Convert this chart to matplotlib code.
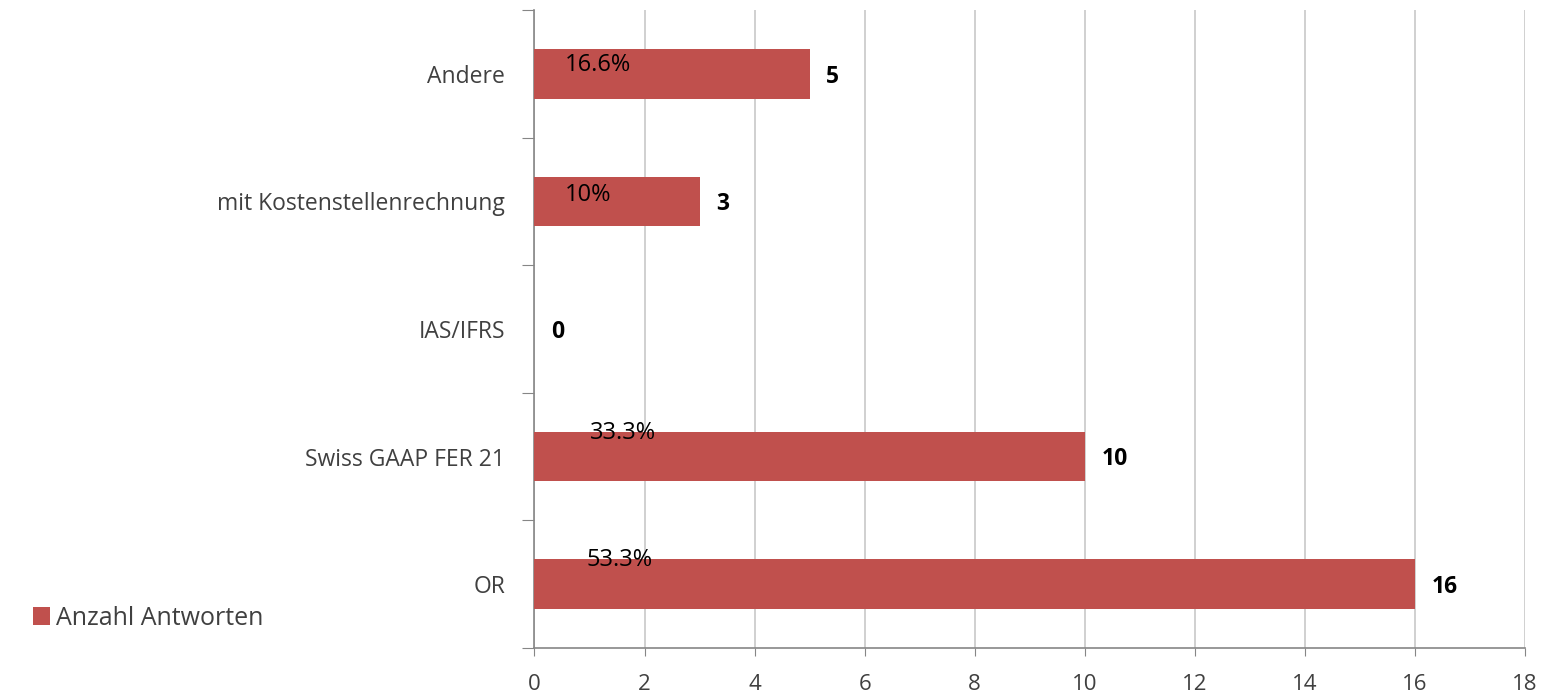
import matplotlib.pyplot as plt
import numpy as np

# Daten
kategorien = ['OR', 'Swiss GAAP FER 21', 'IAS/IFRS', 'mit Kostenstellenrechnung', 'Andere']
antworten = [16, 10, 0, 3, 5]
prozent = ['53.3%', '33.3%', '', '10%', '16.6%']

plt.rcParams['font.family'] = ['Open Sans', 'DejaVu Sans']

farbe = '#C0504D'
grau = '#868686'
textfarbe = '#404040'

fig = plt.figure(figsize=(15.43, 6.96), dpi=100)
ax = fig.add_axes([0.3464, 0.069, 0.6419, 0.9166])

y = np.arange(len(kategorien))
bars = ax.barh(y, antworten, height=0.39, color=farbe, label='Anzahl Antworten', zorder=3)

ax.set_xlim(0, 18)
ax.set_ylim(-0.5, 4.5)
ax.set_xticks(np.arange(0, 19, 2))
ax.xaxis.grid(True, color='#c8c8c8', linewidth=1.2, zorder=0)

# Kategoriegrenzen als Hauptticks, Beschriftung als Nebenticks
ax.set_yticks(np.arange(-0.5, 5, 1))
ax.set_yticklabels([])
ax.set_yticks(y, minor=True)
ax.set_yticklabels(kategorien, minor=True)
ax.tick_params(axis='y', which='major', length=9, color=grau, direction='out')
ax.tick_params(axis='y', which='minor', length=0, pad=21, labelsize=16.5, labelcolor=textfarbe)
ax.tick_params(axis='x', length=6, color=grau, pad=13, labelsize=16, labelcolor=textfarbe)

for s in ['top', 'right']:
    ax.spines[s].set_visible(False)
ax.spines['left'].set_color(grau)
ax.spines['bottom'].set_color(grau)
ax.spines['left'].set_linewidth(1.2)
ax.spines['bottom'].set_linewidth(1.2)

# Wertebeschriftung
for yi, v in zip(y, antworten):
    ax.annotate(str(v), (v, yi), xytext=(12, -2), textcoords='offset points',
                va='center', ha='left', fontsize=16.5, fontweight='bold', color='black')

# Prozentangaben (manuell platziert wie im Original)
versatz = [(0.95, 0.19), (1.0, 1.185), None, (0.55, 3.05), (0.55, 4.07)]
for p, pos in zip(prozent, versatz):
    if pos is None:
        continue
    ax.text(pos[0], pos[1], p, fontsize=17, color='black', va='center', ha='left', zorder=4)

fig.legend(handles=[bars], labels=['Anzahl Antworten'], loc='center left',
           bbox_to_anchor=(0.0065, 0.112), frameon=False, fontsize=18,
           handlelength=0.7, handleheight=0.7, handletextpad=0.25, labelcolor=textfarbe)

fig.savefig('out.png', dpi=100)
